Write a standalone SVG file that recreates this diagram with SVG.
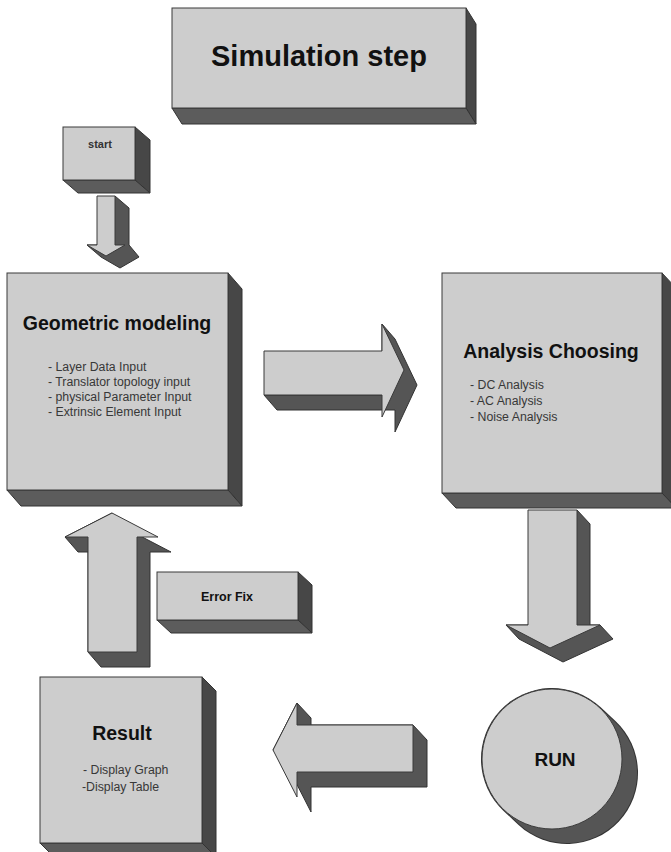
<svg xmlns="http://www.w3.org/2000/svg" width="671" height="852" viewBox="0 0 671 852">
<style>
.face{fill:#cdcdcd;stroke:#3a3a3a;stroke-width:1}
.rside{fill:#474747;stroke:#333;stroke-width:1}
.bside{fill:#5c5c5c;stroke:#333;stroke-width:1}
.dark{fill:#555555;stroke:#333;stroke-width:1}
.ttl{font-family:"Liberation Sans",Arial,sans-serif;font-weight:bold;fill:#111;text-anchor:middle}
.item{font-family:"Liberation Sans",Arial,sans-serif;font-size:12.3px;fill:#383838}
</style>
<rect width="671" height="852" fill="#ffffff"/>

<g id="connectors">
  <g id="arrow-start-geo">
    <polygon class="dark" points="115,196 129,208 129,245 139,257 120,268 101,257 87,245 97,245"/>
    <polygon class="face" points="97,196 115,196 115,245 125,245 106,256 87,245 97,245"/>
  </g>
  <g id="arrow-geo-analysis">
    <polygon class="dark" points="264,395 277,410 395,410 395,432 417,385 395,339 382,324 382,395"/>
    <polygon class="face" points="264,351 382,351 382,324 404,370 382,417 382,395 264,395"/>
  </g>
  <g id="arrow-analysis-run">
    <polygon class="dark" points="577,510 590,524 590,625 600,625 613,639 563,662 519,639 506,625 528,625"/>
    <polygon class="face" points="528,510 577,510 577,625 600,625 550,648 506,625 528,625"/>
  </g>
  <g id="arrow-run-result">
    <polygon class="dark" points="297,703 311,718 311,725 413,725 427,740 427,787 311,787 311,812 287,765 273,750"/>
    <polygon class="face" points="413,725 297,725 297,703 273,750 297,797 297,772 413,772"/>
  </g>
  <g id="arrow-result-geo">
    <polygon class="dark" points="112,513 125,528 171,552 150,552 150,667 101,667 88,652 88,552 78,552 65,537"/>
    <polygon class="face" points="88,652 88,537 65,537 112,513 158,537 137,537 137,652"/>
  </g>
</g>

<g id="title">
  <polygon class="rside" points="466,8 476,24 476,124 466,108"/>
  <polygon class="bside" points="172,108 466,108 476,124 182,124"/>
  <rect class="face" x="172" y="8" width="294" height="100"/>
  <text class="ttl" x="319" y="66" font-size="29">Simulation step</text>
</g>

<g id="start">
  <polygon class="rside" points="135,127 150,140 150,193 135,180"/>
  <polygon class="bside" points="63,180 135,180 150,193 78,193"/>
  <rect class="face" x="63" y="127" width="72" height="53"/>
  <text x="100" y="148" font-family="Liberation Sans, Arial, sans-serif" font-size="11" font-weight="bold" fill="#333" text-anchor="middle">start</text>
</g>

<g id="geometric">
  <polygon class="rside" points="228,273 242,289 242,506 228,490"/>
  <polygon class="bside" points="7,490 228,490 242,506 21,506"/>
  <rect class="face" x="7" y="273" width="221" height="217"/>
  <text class="ttl" x="117" y="330" font-size="19.5">Geometric modeling</text>
  <text class="item" x="48" y="371">- Layer Data Input</text>
  <text class="item" x="48" y="386">- Translator topology input</text>
  <text class="item" x="48" y="401">- physical Parameter Input</text>
  <text class="item" x="48" y="416">- Extrinsic Element Input</text>
</g>

<g id="analysis">
  <polygon class="rside" points="662,273 676,288 676,508 662,493"/>
  <polygon class="bside" points="442,493 662,493 676,508 456,508"/>
  <rect class="face" x="442" y="273" width="220" height="220"/>
  <text class="ttl" x="551" y="358" font-size="19.5">Analysis Choosing</text>
  <text class="item" x="470" y="389" font-size="12.5">- DC Analysis</text>
  <text class="item" x="470" y="405" font-size="12.5">- AC Analysis</text>
  <text class="item" x="470" y="421" font-size="12.5">- Noise Analysis</text>
</g>

<g id="errorfix">
  <polygon class="rside" points="298,572 312,585 312,633 298,620"/>
  <polygon class="bside" points="157,620 298,620 312,633 171,633"/>
  <rect class="face" x="157" y="572" width="141" height="48"/>
  <text class="ttl" x="227" y="601" font-size="12.5">Error Fix</text>
</g>

<g id="result">
  <polygon class="rside" points="202,677 216,691 216,857 202,843"/>
  <polygon class="bside" points="40,843 202,843 216,857 54,857"/>
  <rect class="face" x="40" y="677" width="162" height="166"/>
  <text class="ttl" x="122" y="740" font-size="19.5">Result</text>
  <text class="item" x="83" y="774" font-size="12.5">- Display Graph</text>
  <text class="item" x="82" y="791" font-size="12.5">-Display Table</text>
</g>

<g id="run">
  <path d="M552,759 L567,773" stroke="#333" stroke-width="142" stroke-linecap="round" fill="none"/>
  <path d="M552,759 L567,773" stroke="#555" stroke-width="140" stroke-linecap="round" fill="none"/>
  <circle class="face" cx="552" cy="759" r="70"/>
  <text class="ttl" x="555" y="766" font-size="19">RUN</text>
</g>
</svg>
